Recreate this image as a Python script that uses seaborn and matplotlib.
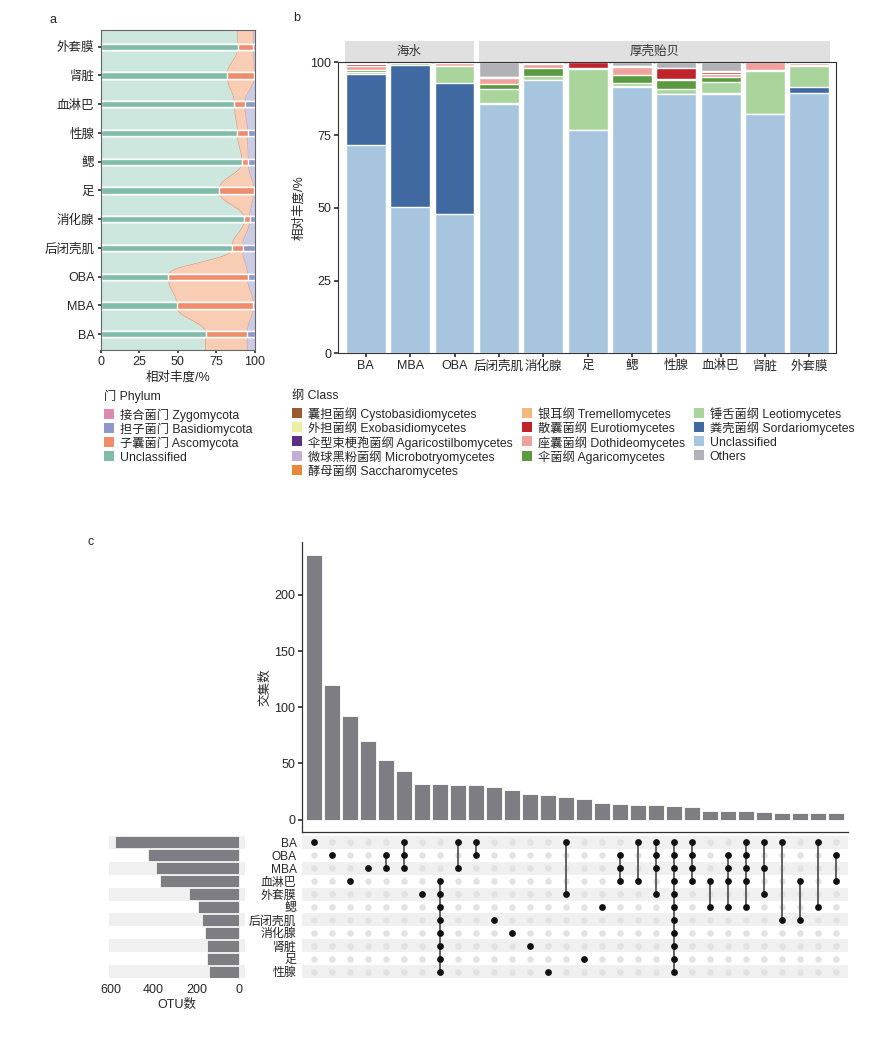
import numpy as np
import pandas as pd
import matplotlib
matplotlib.use('Agg')
import matplotlib.pyplot as plt
import matplotlib.transforms as mtransforms
from matplotlib.patches import Rectangle
from matplotlib.lines import Line2D
import seaborn as sns

sns.set_theme(style='ticks')
plt.rcParams['font.family'] = ['Liberation Sans', 'Noto Sans CJK SC', 'DejaVu Sans']
plt.rcParams['font.size'] = 8.5
plt.rcParams['xtick.labelsize'] = 9
plt.rcParams['ytick.labelsize'] = 9
plt.rcParams['axes.labelsize'] = 9


# ---- a: 门水平 (上 -> 下)
a_tissues = ['外套膜', '肾脏', '血淋巴', '性腺', '鳃', '足', '消化腺', '后闭壳肌', 'OBA', 'MBA', 'BA']
a_unclassified = [88.8, 82.1, 86.6, 88.6, 91.4, 76.7, 92.9, 85.1, 43.8, 49.2, 68.0]
a_ascomycota = [10.1, 17.5, 6.9, 6.6, 4.3, 22.4, 3.6, 6.9, 51.4, 49.7, 27.0]
a_basidiomycota = [1.0, 0.3, 6.4, 4.7, 4.2, 0.8, 3.4, 7.9, 4.7, 1.0, 4.9]
a_zygomycota = [0.1, 0.1, 0.1, 0.1, 0.1, 0.1, 0.1, 0.1, 0.1, 0.1, 0.1]

# ---- b: 纲水平
b_samples = ['BA', 'MBA', 'OBA', '后闭壳肌', '消化腺', '足', '鳃', '性腺', '血淋巴', '肾脏', '外套膜']
b_unclassified = [71.6, 50.2, 47.8, 85.7, 93.9, 76.6, 91.6, 89.0, 89.1, 82.1, 89.3]
b_sordario = [24.3, 49.0, 45.0, 0.3, 0.0, 0.3, 0.2, 0.0, 0.4, 0.2, 2.3]
b_leotio = [0.6, 0.4, 5.9, 4.7, 1.5, 20.7, 1.2, 1.7, 3.6, 14.7, 7.1]
b_agarico = [0.7, 0.1, 0.0, 1.7, 2.8, 0.0, 2.5, 3.2, 1.8, 0.3, 0.3]
b_dothideo = [1.5, 0.2, 1.0, 2.2, 1.1, 0.6, 3.0, 0.4, 1.1, 2.7, 0.6]
b_euro = [0.6, 0.0, 0.0, 0.2, 0.6, 1.8, 0.4, 3.7, 0.7, 0.0, 0.3]
b_tremello = [0.3, 0.0, 0.0, 0.0, 0.0, 0.0, 0.0, 0.0, 0.4, 0.0, 0.1]
b_others = [0.4, 0.1, 0.3, 5.2, 0.1, 0.0, 1.1, 2.0, 2.9, 0.0, 0.0]

# ---- c: upset
c_sets = ['BA', 'OBA', 'MBA', '血淋巴', '外套膜', '鳃', '后闭壳肌', '消化腺', '肾脏', '足', '性腺']
c_set_size = [581, 425, 389, 370, 234, 194, 172, 159, 152, 148, 142]
c_inter = [235, 120, 92, 70, 53, 43, 32, 32, 31, 31, 29, 26, 23, 22, 20,
           18, 15, 14, 13, 13, 12, 11, 8, 8, 8, 7, 6, 6, 6, 6]
mussel = ['血淋巴', '外套膜', '鳃', '后闭壳肌', '消化腺', '肾脏', '足', '性腺']
c_members = [
    ['BA'], ['OBA'], ['血淋巴'], ['MBA'], ['OBA', 'MBA'], ['BA', 'OBA', 'MBA'],
    ['外套膜'], mussel, ['BA', 'MBA'], ['BA', 'OBA'], ['后闭壳肌'], ['消化腺'],
    ['肾脏'], ['性腺'], ['BA', '外套膜'], ['足'], ['鳃'], ['OBA', 'MBA', '血淋巴'],
    ['BA', '血淋巴'], ['BA', 'OBA', 'MBA', '外套膜'], c_sets,
    ['BA', 'OBA', 'MBA', '血淋巴'], ['血淋巴', '鳃'], ['OBA', 'MBA', '血淋巴', '鳃'],
    ['BA', 'OBA', 'MBA', '血淋巴', '鳃'], ['BA', 'MBA', '外套膜'], ['BA', '后闭壳肌'],
    ['血淋巴', '后闭壳肌'], ['BA', '鳃'], ['OBA', '血淋巴'],
]

W, H = 892, 1060
fig = plt.figure(figsize=(W / 100, H / 100), dpi=100)


def add_ax(x0, y0, x1, y1):
    return fig.add_axes([x0 / W, 1 - y1 / H, (x1 - x0) / W, (y1 - y0) / H])


def smooth(vals, lo, hi, n=40):
    # 相邻两行之间用平滑的 S 形过渡 (行处切线竖直)
    p = np.asarray(vals, float)
    t = np.linspace(0, 1, n, endpoint=False)
    s = t**3 * (t * (6 * t - 15) + 10)
    ys, xs = [lo], [p[0]]
    for i in range(len(p) - 1):
        xs.extend(p[i] + (p[i + 1] - p[i]) * s)
        ys.extend(i + t)
    xs += [p[-1], p[-1]]
    ys += [len(p) - 1, hi]
    return np.array(ys), np.array(xs)


# ================= a =================
ax = add_ax(100.7, 30, 255, 350)
a_layers = [a_unclassified, a_ascomycota, a_basidiomycota, a_zygomycota]
a_bar_cols = ['#7fbcaa', '#ef8c6b', '#8f97c9', '#d98cb0']
a_cum = np.cumsum(a_layers, axis=0)
for k in range(3, -1, -1):
    sns.barplot(x=a_cum[k], y=a_tissues, orient='h', color=a_bar_cols[k],
                saturation=1, width=0.22, errorbar=None, ax=ax)
yy, b1 = smooth(a_cum[0], -0.6, 10.6)
_, b2 = smooth(a_cum[1], -0.6, 10.6)
ax.fill_betweenx(yy, 0, b1, color='#cde7de', lw=0, zorder=0.5)
ax.fill_betweenx(yy, b1, b2, color='#f9cdb4', lw=0, zorder=0.5)
ax.fill_betweenx(yy, b2, 100, color='#caccE6', lw=0, zorder=0.5)
ax.plot(b1, yy, color='#e5a184', lw=0.6, zorder=0.6)
ax.plot(b2, yy, color='#c4a9c0', lw=0.6, zorder=0.6)
ax.set_xlim(0, 100)
ax.set_ylim(10.55, -0.58)
ax.set_xticks([0, 25, 50, 75, 100])
ax.set_xlabel('相对丰度/%', labelpad=2)
ax.set_ylabel('')
ax.tick_params(length=2.5, pad=2, color='#333')
for s in ax.spines.values():
    s.set_color('#666')
    s.set_linewidth(0.8)
fig.text(50 / W, 1 - 20 / H, 'a', fontsize=9, va='center')

# ================= b =================
axb = add_ax(338.3, 62.3, 836, 353.3)
b_layers = [b_unclassified, b_sordario, b_leotio, b_agarico, b_dothideo, b_euro, b_tremello, b_others]
b_cols = ['#a7c5de', '#4169a1', '#a9d49b', '#5a9a40', '#f1a19b', '#c1232b', '#f0b97d', '#b2b2b6']
b_cum = np.cumsum(b_layers, axis=0)
for k in range(len(b_layers) - 1, -1, -1):
    sns.barplot(x=b_samples, y=b_cum[k], order=b_samples, color=b_cols[k],
                saturation=1, width=0.9, errorbar=None, ax=axb)
axb.set_xlim(-0.62, 10.6)
axb.set_ylim(0, 100)
axb.set_yticks([0, 25, 50, 75, 100])
axb.set_ylabel('相对丰度/%', labelpad=4)
axb.tick_params(length=3, pad=2, color='#333')
for s in axb.spines.values():
    s.set_color('#333')
    s.set_linewidth(0.8)
trans = mtransforms.blended_transform_factory(axb.transData, axb.transAxes)
for x0, x1, name in [(-0.47, 2.44, '海水'), (2.55, 10.46, '厚壳贻贝')]:
    axb.add_patch(Rectangle((x0, 0.995), x1 - x0, 0.077, transform=trans,
                            color='#e0e0e0', clip_on=False, lw=0, zorder=0))
    axb.text((x0 + x1) / 2, 1.036, name, transform=trans, ha='center',
             va='center', fontsize=9, color='#333')
fig.text(293 / W, 1 - 18 / H, 'b', fontsize=9, va='center')

# ================= legends =================
phy_labels = ['接合菌门 Zygomycota', '担子菌门 Basidiomycota', '子囊菌门 Ascomycota', 'Unclassified']
phy_cols = ['#d98cb0', '#8f97c9', '#ef8c6b', '#7fbcaa']
cls_labels = ['囊担菌纲 Cystobasidiomycetes', '外担菌纲 Exobasidiomycetes',
              '伞型束梗孢菌纲 Agaricostilbomycetes', '微球黑粉菌纲 Microbotryomycetes',
              '酵母菌纲 Saccharomycetes', '银耳纲 Tremellomycetes', '散囊菌纲 Eurotiomycetes',
              '座囊菌纲 Dothideomycetes', '伞菌纲 Agaricomycetes', '锤舌菌纲 Leotiomycetes',
              '粪壳菌纲 Sordariomycetes', 'Unclassified', 'Others']
cls_cols = ['#9b5a2b', '#eeeea3', '#5b2d83', '#c4aed3', '#e9873b', '#f0b97d', '#c1232b',
            '#f1a19b', '#5a9a40', '#a9d49b', '#4169a1', '#a7c5de', '#b2b2b6']


def sq(c):
    return Line2D([], [], marker='s', linestyle='none', markersize=7.6,
                  markerfacecolor=c, markeredgewidth=0)


leg_kw = dict(loc='upper left', frameon=False, alignment='left', handlelength=0.88,
              handleheight=1.2, handletextpad=0.45, labelspacing=0.04, borderpad=0,
              borderaxespad=0, fontsize=8.8, title_fontsize=8.8)
lg1 = fig.legend(handles=[sq(c) for c in phy_cols], labels=phy_labels,
                 title='门 Phylum', bbox_to_anchor=(104 / W, 1 - 390 / H), **leg_kw)
lg2 = fig.legend(handles=[sq(c) for c in cls_cols], labels=cls_labels,
                 title='纲 Class', ncol=3, columnspacing=0.7,
                 bbox_to_anchor=(292 / W, 1 - 390 / H), **leg_kw)
for lg in (lg1, lg2):
    lg._legend_box.sep = 4

# ================= c =================
n_col = len(c_inter)
axc = add_ax(302, 542, 848, 832)
sns.barplot(x=list(range(n_col)), y=c_inter, color='#7e7d83', saturation=1,
            width=0.93, edgecolor='white', linewidth=0.6, errorbar=None, ax=axc)
axc.set_xlim(-0.667, n_col - 0.333)
axc.set_ylim(-11, 247)
axc.set_yticks([0, 50, 100, 150, 200])
axc.set_xticks([])
axc.set_ylabel('交集数', labelpad=2)
axc.tick_params(length=3, pad=2, color='#333')
sns.despine(ax=axc)
for s in ['left', 'bottom']:
    axc.spines[s].set_color('#333')
    axc.spines[s].set_linewidth(0.9)
fig.text(88 / W, 1 - 542 / H, 'c', fontsize=9, va='center')

# matrix
axm = add_ax(302, 835.8, 848, 978.2)
rows = {s: i for i, s in enumerate(c_sets)}
recs = []
for j, mem in enumerate(c_members):
    for s in c_sets:
        recs.append({'col': j, 'row': rows[s], 'in': s in mem})
mdf = pd.DataFrame(recs)
for i in range(0, len(c_sets), 2):
    axm.axhspan(i - 0.5, i + 0.5, color='#f0f0f0', lw=0, zorder=0)
sns.scatterplot(data=mdf[~mdf['in']], x='col', y='row', color='#e2e2e2', s=22,
                linewidth=0, ax=axm, zorder=2)
for j, mem in enumerate(c_members):
    r = [rows[s] for s in mem]
    if len(r) > 1:
        axm.plot([j, j], [min(r), max(r)], color='#555', lw=1.3, zorder=3)
sns.scatterplot(data=mdf[mdf['in']], x='col', y='row', color='#111111', s=24,
                linewidth=0, ax=axm, zorder=4)
axm.set_xlim(-0.667, n_col - 0.333)
axm.set_ylim(len(c_sets) - 0.5, -0.5)
axm.set_yticks(range(len(c_sets)))
axm.set_yticklabels(c_sets, fontsize=8.6)
axm.set_xticks([])
axm.set_xlabel('')
axm.set_ylabel('')
axm.tick_params(length=0, pad=4)
sns.despine(ax=axm, left=True, bottom=True)

# set sizes
axs = add_ax(109, 835.8, 245, 978.2)
for i in range(0, len(c_sets), 2):
    axs.axhspan(i - 0.5, i + 0.5, color='#f0f0f0', lw=0, zorder=0)
sns.barplot(x=c_set_size, y=c_sets, orient='h', color='#7e7d83', saturation=1,
            width=0.95, edgecolor='white', linewidth=0.5, errorbar=None, ax=axs)
axs.set_xlim(609, -28)
axs.set_ylim(len(c_sets) - 0.5, -0.5)
axs.set_xticks([600, 400, 200, 0])
axs.set_yticks([])
axs.set_xlabel('OTU数', labelpad=2)
axs.set_ylabel('')
axs.tick_params(length=0, pad=4)
sns.despine(ax=axs, left=True, bottom=True)

fig.savefig('out.png', dpi=100)
